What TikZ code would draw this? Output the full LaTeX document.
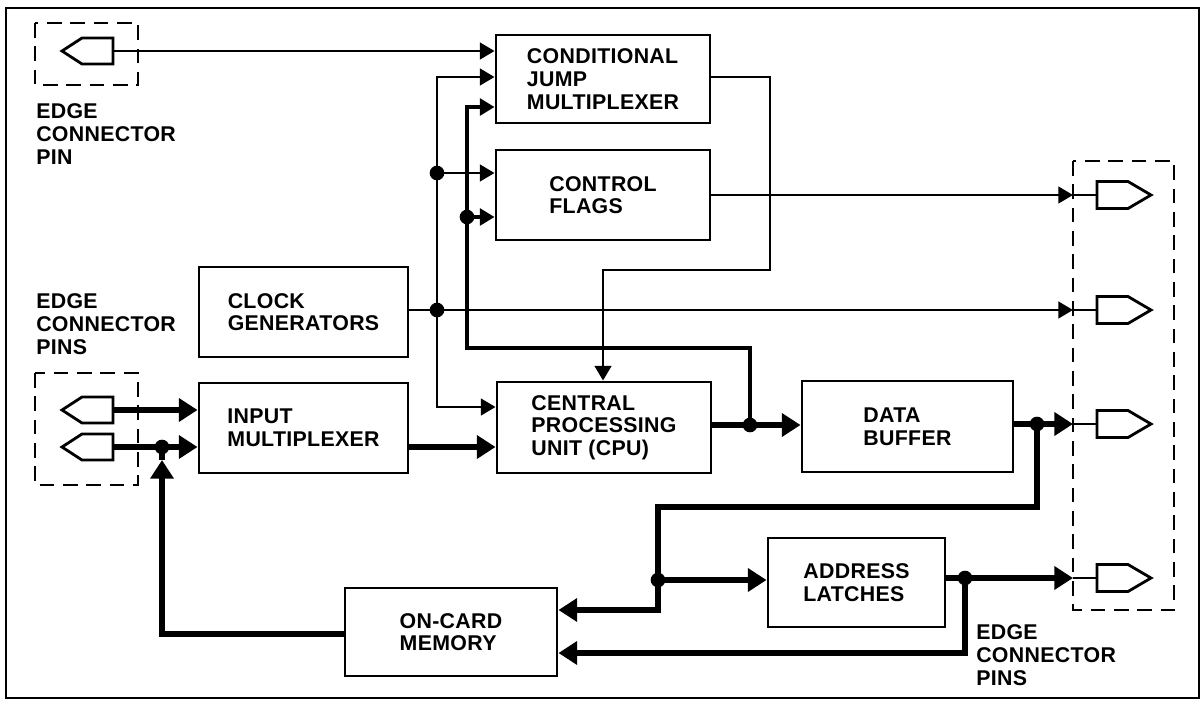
\documentclass[tikz,border=0pt]{standalone}
\usepackage{fontspec}
\setmainfont{Liberation Sans}[LetterSpace=1.5]
\usetikzlibrary{arrows.meta}
\tikzset{
  ta/.tip={Triangle[length=11pt,width=12.5pt]},
  tb/.tip={Triangle[length=14pt,width=17pt]},
  txt/.style={font=\fontsize{16}{17}\selectfont\bfseries},
  box/.style={draw, line width=2.2pt, align=left, inner sep=0pt, txt},
  lbl/.style={align=left, inner sep=0pt, txt},
  dbox/.style={line width=2pt, dash pattern=on 11pt off 6.5pt},
  sig/.style={line width=1.8pt},
  med/.style={line width=2.7pt},
  bus/.style={line width=4.6pt},
  dot/.style={circle, fill, draw=none, inner sep=0pt, minimum size=11pt},
  pinL/.pic={\draw[line width=2.1pt, line join=miter] (0,-13) -- (-31,-13) -- (-51,0) -- (-31,13) -- (0,13) -- cycle;
             \coordinate (-c) at (0,0);},
  pinR/.pic={\draw[line width=2.1pt, line join=miter] (0,-13.5) -- (31,-13.5) -- (54,0) -- (31,13.5) -- (0,13.5) -- cycle;
             \coordinate (-c) at (0,0);}
}
\begin{document}
\begin{tikzpicture}[x=0.75pt,y=-0.75pt]
\useasboundingbox (0,0) rectangle (1202,700);
\draw[line width=1.6pt] (6,8) rectangle (1199,698);

% boxes
\node[box, minimum width=160.5pt, minimum height=66pt] (cjm) at (603,79) {CONDITIONAL\\JUMP\\MULTIPLEXER};
\node[box, minimum width=160.5pt, minimum height=67.5pt] (cf) at (603,195) {CONTROL\\FLAGS};
\node[box, minimum width=156.75pt, minimum height=67.5pt] (clk) at (303.5,312) {CLOCK\\GENERATORS};
\node[box, minimum width=156.75pt, minimum height=67.5pt] (im) at (303.5,428) {INPUT\\MULTIPLEXER};
\node[box, minimum width=160.5pt, minimum height=68.25pt] (cpu) at (604,427.5) {CENTRAL\\PROCESSING\\UNIT (CPU)};
\node[box, minimum width=158.25pt, minimum height=68.25pt] (db) at (907.5,426.5) {DATA\\BUFFER};
\node[box, minimum width=132.75pt, minimum height=66.75pt] (al) at (856.5,582.5) {ADDRESS\\LATCHES};
\node[box, minimum width=159pt, minimum height=66pt] (mem) at (451,632) {ON-CARD\\MEMORY};

% dashed connector outlines
\draw[dbox] (35,23) rectangle (138,85);
\draw[dbox] (35,373) rectangle (138,485);
\draw[dbox] (1073,161) rectangle (1174,610);

% pins
\pic (pt) at (113,51) {pinL};
\pic (pa) at (113,410) {pinL};
\pic (pb) at (113,447) {pinL};
\pic (q1) at (1097,195) {pinR};
\pic (q2) at (1097,310) {pinR};
\pic (q3) at (1097,424) {pinR};
\pic (q4) at (1097,578) {pinR};

% labels
\node[lbl, anchor=west] (l1) at (36,134) {EDGE\\CONNECTOR\\PIN};
\node[lbl, anchor=west] (l2) at (36,324) {EDGE\\CONNECTOR\\PINS};
\node[lbl, anchor=west] (l3) at (976,655) {EDGE\\CONNECTOR\\PINS};

% routing points
\coordinate (a1) at (437,77);
\coordinate (a2) at (437,407);
\coordinate (b1) at (467,107);
\coordinate (b2) at (467,348);
\coordinate (b3) at (750,348);
\coordinate (c1) at (770,77);
\coordinate (c2) at (770,270);
\coordinate (c3) at (603,270);
\coordinate (e1) at (1073,195);
\coordinate (e2) at (1073,310);
\coordinate (e3) at (1073,424);
\coordinate (e4) at (1073,578);
\coordinate (f1) at (1037,507);
\coordinate (f2) at (658,507);
\coordinate (f3) at (658,610);
\coordinate (g1) at (965,653);
\coordinate (h1) at (162,634);
\coordinate (h2) at (162,460);

% junction dots
\node[dot] (d1) at (437,173) {};
\node[dot] (d2) at (437,310) {};
\node[dot] (d3) at (467,217) {};
\node[dot] (d4) at (750,425) {};
\node[dot] (d5) at (1037,424) {};
\node[dot] (d6) at (658,580) {};
\node[dot] (d7) at (965,578) {};
\node[dot] (d8) at (162,447) {};

% control lines
\draw[sig,ta-ta] (a1 -| cjm.west) -- (a1) -- (a2) -- (a2 -| cpu.west);
\draw[sig,-ta] (pt-c) -- (pt-c -| cjm.west);
\draw[sig,-ta] (d1.center) -- (d1 -| cf.west);
\draw[med,ta-] (b1 -| cjm.west) -- (b1) -- (b2) -- (b3) -- (d4.center);
\draw[med,-ta] (d3.center) -- (d3 -| cf.west);
\draw[sig,-ta] (cjm.east |- c1) -- (c1) -- (c2) -- (c3) -- (c3 |- cpu.north);
\draw[sig,-ta] (cf.east |- e1) -- (e1);
\draw[sig] (e1) -- (q1-c);
\draw[sig,-ta] (clk.east |- e2) -- (e2);
\draw[sig] (e2) -- (q2-c);

% buses
\draw[bus,-tb] (pa-c) -- (pa-c -| im.west);
\draw[bus,-tb] (pb-c) -- (pb-c -| im.west);
\draw[bus,-tb] (im.east |- pb-c) -- (pb-c -| cpu.west);
\draw[bus,-tb] (cpu.east |- d4) -- (d4 -| db.west);
\draw[bus,-tb] (db.east |- e3) -- (e3);
\draw[sig] (e3) -- (q3-c);
\draw[bus,-tb] (d5.center) -- (f1) -- (f2) -- (f3) -- (f3 -| mem.east);
\draw[bus,-tb] (d6.center) -- (d6 -| al.west);
\draw[bus,-tb] (al.east |- e4) -- (e4);
\draw[sig] (e4) -- (q4-c);
\draw[bus,-tb] (d7.center) -- (g1) -- (g1 -| mem.east);
\draw[bus,-tb] (mem.west |- h1) -- (h1) -- (h2);
\draw[bus] (h2) -- (d8.center);
\end{tikzpicture}
\end{document}
